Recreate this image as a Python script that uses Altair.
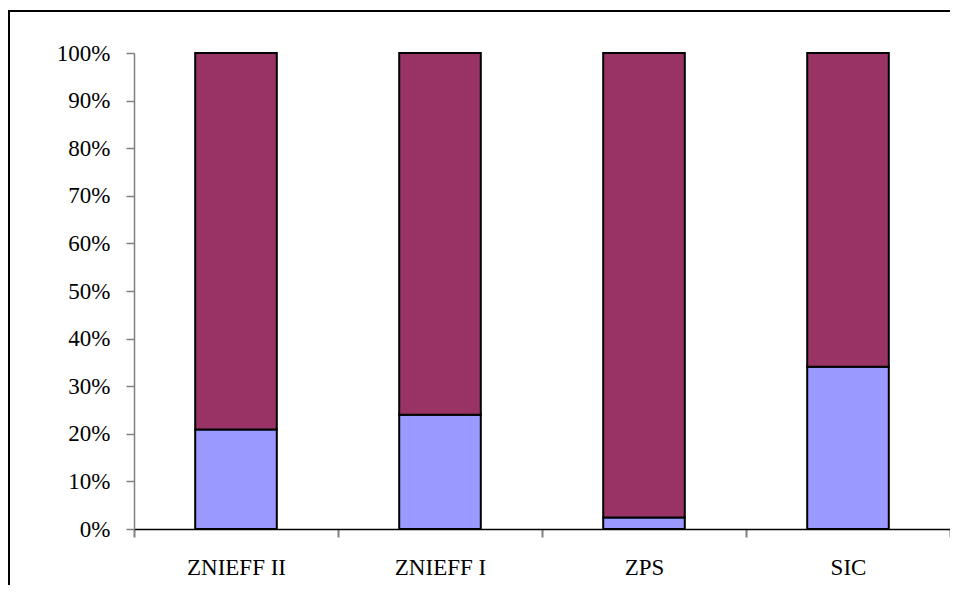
import altair as alt
import pandas as pd

categories = ["ZNIEFF II", "ZNIEFF I", "ZPS", "SIC"]
lower = [20.9, 24.0, 2.4, 34.1]
upper = [79.1, 76.0, 97.6, 65.9]
series_names = ["bas", "haut"]
y_ticks = [0, 0.1, 0.2, 0.3, 0.4, 0.5, 0.6, 0.7, 0.8, 0.9, 1.0]

rows = []
for c, lo, up in zip(categories, lower, upper):
    rows.append({"cat": c, "serie": series_names[0], "val": lo, "ord": 0})
    rows.append({"cat": c, "serie": series_names[1], "val": up, "ord": 1})
df = pd.DataFrame(rows)

FONT = "Liberation Serif"
W, H = 816, 476

bars = alt.Chart(df).mark_bar(
    width={"band": 0.4}, stroke="black", strokeWidth=2
).encode(
    x=alt.X("cat:N", sort=categories, title=None,
            scale=alt.Scale(paddingInner=0, paddingOuter=0),
            axis=alt.Axis(labelAngle=0, tickBand="extent", tickSize=8,
                          tickColor="#808080", tickWidth=2,
                          domainColor="black", domainWidth=1.5,
                          labelFont=FONT, labelFontSize=23, labelColor="black",
                          labelPadding=19, grid=False)),
    y=alt.Y("val:Q", stack="normalize", title=None,
            scale=alt.Scale(domain=[0, 1]),
            axis=alt.Axis(values=y_ticks, format=".0%", tickSize=8,
                          tickColor="#808080", tickWidth=1.5,
                          domainColor="#808080", domainWidth=1.5,
                          labelFont=FONT, labelFontSize=23, labelColor="black",
                          labelPadding=16, grid=False)),
    color=alt.Color("serie:N", legend=None,
                    scale=alt.Scale(domain=series_names, range=["#9999FF", "#993366"])),
    order=alt.Order("ord:Q"),
)

frame_src = pd.DataFrame({"a": [0]})
frame_top = alt.Chart(frame_src).mark_rule(stroke="black", strokeWidth=2).encode(
    x=alt.value(-125), x2=alt.value(830), y=alt.value(-42),
)
frame_left = alt.Chart(frame_src).mark_rule(stroke="black", strokeWidth=2).encode(
    x=alt.value(-125), y=alt.value(-43), y2=alt.value(540),
)
edge_cover = alt.Chart(frame_src).mark_rule(stroke="white", strokeWidth=6).encode(
    x=alt.value(W - 1), y=alt.value(-40), y2=alt.value(H - 2),
)

chart = alt.layer(frame_top, frame_left, bars, edge_cover).properties(
    width=W, height=H,
    padding={"left": 126, "top": 45, "right": 0, "bottom": 56},
    autosize=alt.AutoSizeParams(type="none"),
    background="white",
).configure_view(stroke="transparent", strokeWidth=0)

chart.save("out.html", embed_options={"renderer": "svg", "actions": False})
